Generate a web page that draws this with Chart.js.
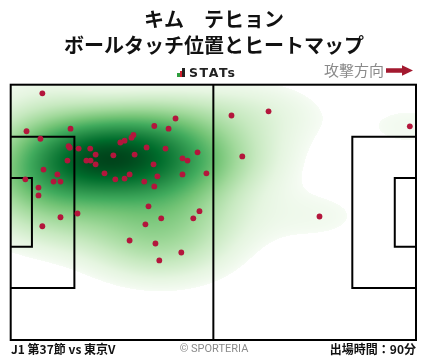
<!DOCTYPE html>
<html lang="ja">
<head>
<meta charset="utf-8">
<script src="https://cdn.jsdelivr.net/npm/chart.js@4.4.1/dist/chart.umd.min.js"></script>
<style>
  html, body { margin: 0; padding: 0; background: #fff; }
  #wrap { position: relative; width: 428px; height: 359px; font-family: "Noto Sans CJK JP", sans-serif; }
  #pitch { position: absolute; left: 0; top: 0; }
  .t { position: absolute; white-space: nowrap; line-height: 1; }
  .title { left: 0; width: 428px; text-align: center; font-size: 20px; font-weight: bold; color: #111; }
  #t1 { top: 9px; }
  #t2 { top: 35px; }
  #logo { left: 177px; top: 66.5px; font-family: "DejaVu Sans", sans-serif; font-weight: bold; font-size: 12.5px; color: #222; }
  #logo .bar { position: absolute; width: 2.6px; }
  #logo .txt { position: absolute; left: 12px; top: 0; letter-spacing: 1.6px; }
  #dir { left: 324px; top: 62.2px; font-size: 15px; color: #8a8a8a; }
  #arrow { position: absolute; left: 386px; top: 65px; }
  .foot { top: 342.8px; font-size: 12px; font-weight: bold; color: #111; }
  #f1 { left: 11px; }
  #f3 { right: 12px; }
  #f2 { left: 0; width: 428px; text-align: center; top: 342.5px; font-family: Roboto, sans-serif; font-size: 11px; color: #8a8a8a; }
</style>
</head>
<body>
<div id="wrap">
  <canvas id="pitch" width="428" height="359"></canvas>
  <div class="t title" id="t1">キム　テヒョン</div>
  <div class="t title" id="t2">ボールタッチ位置とヒートマップ</div>
  <div class="t" id="logo">
    <span class="bar" style="left:0;height:4px;top:6px;background:#2e9e3e"></span>
    <span class="bar" style="left:2.6px;height:5.5px;top:4.5px;background:#d2202e"></span>
    <span class="bar" style="left:5.4px;height:8.5px;top:1.5px;background:#222"></span>
    <span class="txt">STATs</span>
  </div>
  <div class="t" id="dir">攻撃方向</div>
  <svg id="arrow" width="28" height="12" viewBox="0 0 28 12">
    <polygon points="0,3.2 16,3.2 16,0.3 27,5.5 16,10.7 16,7.8 0,7.8" fill="#a3192f"/>
  </svg>
  <div class="t foot" id="f1">J1 第37節 vs 東京V</div>
  <div class="t" id="f2">© SPORTERIA</div>
  <div class="t foot" id="f3">出場時間：90分</div>
</div>
<script>
// ボールタッチ位置 (m) 攻撃方向は右
const touchX = [8.2, 4.1, 15.5, 7.7, 42.7, 37.2, 40.9, 31.8, 31.3, 29.5,
  28.4, 15.0, 15.3, 17.6, 20.6, 22.0, 26.6, 32.1, 35.2, 40.1,
  48.4, 44.5, 45.8, 14.7, 19.6, 20.7, 22.0, 37.0, 8.5, 12.1,
  24.3, 30.8, 29.5, 27.1, 38.0, 44.5, 50.7, 3.8, 11.1, 12.9,
  34.6, 37.2, 7.2, 7.2, 35.7, 48.9, 17.3, 12.9, 8.2, 39.0,
  47.3, 34.9, 30.8, 37.5, 44.2, 38.5, 57.2, 66.8, 103.4, 60.0,
  80.0];
const touchY = [65.7, 55.6, 56.3, 53.6, 59.0, 57.0, 56.3, 54.6, 53.9, 53.1,
  52.6, 51.6, 51.2, 51.0, 51.0, 49.4, 49.2, 49.4, 51.3, 51.0,
  50.0, 48.4, 47.8, 47.8, 47.8, 47.8, 46.8, 46.8, 45.4, 44.1,
  44.4, 44.1, 43.0, 42.8, 43.6, 44.1, 44.4, 42.8, 42.2, 42.2,
  42.2, 40.9, 40.6, 38.5, 35.6, 34.3, 33.7, 32.7, 30.3, 32.4,
  32.4, 30.8, 26.5, 25.7, 23.3, 21.2, 59.8, 60.9, 56.9, 48.9,
  32.9];

const pitchLength = 105;
const pitchWidth = 68;
const bwAdjust = 1.25;
const massCut = 0.03;

// matplotlib Greens
const greens = [[247,252,245],[229,245,224],[199,233,192],[161,217,155],[116,196,118],
  [65,171,93],[35,139,69],[0,109,44],[0,68,27]];

function greenAt(v) {
  v = Math.max(0, Math.min(1, v)) * (greens.length - 1);
  const i = Math.min(Math.floor(v), greens.length - 2);
  const f = v - i;
  const a = greens[i], b = greens[i + 1];
  return [a[0] + (b[0] - a[0]) * f, a[1] + (b[1] - a[1]) * f, a[2] + (b[2] - a[2]) * f];
}

const heatmap = {
  id: 'heatmap',
  beforeDatasetsDraw(chart) {
    const ctx = chart.ctx;
    const area = chart.chartArea;
    const xs = chart.scales.x, ys = chart.scales.y;
    const n = touchX.length;

    // gaussian kde, scott bandwidth
    let mx = 0, my = 0;
    for (let i = 0; i < n; i++) { mx += touchX[i]; my += touchY[i]; }
    mx /= n; my /= n;
    let sxx = 0, syy = 0, sxy = 0;
    for (let i = 0; i < n; i++) {
      const dx = touchX[i] - mx, dy = touchY[i] - my;
      sxx += dx * dx; syy += dy * dy; sxy += dx * dy;
    }
    const fac = Math.pow(n, -1 / 6) * bwAdjust;
    const a = sxx / (n - 1) * fac * fac, b = sxy / (n - 1) * fac * fac, c = syy / (n - 1) * fac * fac;
    const det = a * c - b * b;
    const ia = c / det, ib = -b / det, ic = a / det;

    const x0 = Math.floor(area.left), y0 = Math.floor(area.top);
    const w = Math.ceil(area.right) - x0, h = Math.ceil(area.bottom) - y0;
    const dens = new Float32Array(w * h);
    let dmax = 0;
    for (let py = 0; py < h; py++) {
      const vy = ys.getValueForPixel(y0 + py + 0.5);
      for (let px = 0; px < w; px++) {
        const vx = xs.getValueForPixel(x0 + px + 0.5);
        let s = 0;
        for (let i = 0; i < n; i++) {
          const dx = vx - touchX[i], dy = vy - touchY[i];
          s += Math.exp(-0.5 * (ia * dx * dx + 2 * ib * dx * dy + ic * dy * dy));
        }
        dens[py * w + px] = s;
        if (s > dmax) dmax = s;
      }
    }
    // 低密度側の質量を切り捨て
    const sorted = Array.from(dens).sort((p, q) => p - q);
    let total = 0;
    for (const v of sorted) total += v;
    let cum = 0, thresh = 0;
    for (const v of sorted) { cum += v; if (cum >= total * massCut) { thresh = v; break; } }

    const off = document.createElement('canvas');
    off.width = w; off.height = h;
    const octx = off.getContext('2d');
    const img = octx.createImageData(w, h);
    for (let k = 0; k < w * h; k++) {
      const d = dens[k];
      if (d < thresh) continue;
      const col = greenAt(Math.pow((d - thresh) / (dmax - thresh), 0.7));
      img.data[k * 4] = col[0];
      img.data[k * 4 + 1] = col[1];
      img.data[k * 4 + 2] = col[2];
      img.data[k * 4 + 3] = 255;
    }
    octx.putImageData(img, 0, 0);
    ctx.save();
    ctx.beginPath();
    ctx.rect(area.left, area.top, area.right - area.left, area.bottom - area.top);
    ctx.clip();
    ctx.drawImage(off, x0, y0);
    ctx.restore();

    // pitch lines
    const X = v => xs.getPixelForValue(v), Y = v => ys.getPixelForValue(v);
    ctx.save();
    ctx.strokeStyle = '#000';
    ctx.lineWidth = 2;
    ctx.strokeRect(X(0), Y(pitchWidth), X(pitchLength) - X(0), Y(0) - Y(pitchWidth));
    ctx.beginPath();
    ctx.moveTo(X(pitchLength / 2), Y(0));
    ctx.lineTo(X(pitchLength / 2), Y(pitchWidth));
    ctx.stroke();
    const boxes = [[16.5, 40.32], [5.5, 18.32]];
    for (const [depth, width] of boxes) {
      const top = pitchWidth / 2 + width / 2, bot = pitchWidth / 2 - width / 2;
      ctx.beginPath();
      ctx.moveTo(X(0), Y(top)); ctx.lineTo(X(depth), Y(top));
      ctx.lineTo(X(depth), Y(bot)); ctx.lineTo(X(0), Y(bot));
      ctx.stroke();
      ctx.beginPath();
      ctx.moveTo(X(pitchLength), Y(top)); ctx.lineTo(X(pitchLength - depth), Y(top));
      ctx.lineTo(X(pitchLength - depth), Y(bot)); ctx.lineTo(X(pitchLength), Y(bot));
      ctx.stroke();
    }
    ctx.restore();
  }
};

const points = touchX.map((x, i) => ({ x: x, y: touchY[i] }));

new Chart(document.getElementById('pitch'), {
  type: 'scatter',
  data: {
    datasets: [{
      label: 'タッチ',
      data: points,
      backgroundColor: '#b3163c',
      borderWidth: 0,
      pointRadius: 2.9
    }]
  },
  options: {
    responsive: false,
    animation: false,
    layout: { padding: { left: 10.7, top: 84.7, right: 12, bottom: 19 } },
    scales: {
      x: { type: 'linear', min: 0, max: pitchLength, display: false },
      y: { type: 'linear', min: 0, max: pitchWidth, display: false }
    },
    plugins: { legend: { display: false }, tooltip: { enabled: false } }
  },
  plugins: [heatmap]
});
</script>
</body>
</html>
